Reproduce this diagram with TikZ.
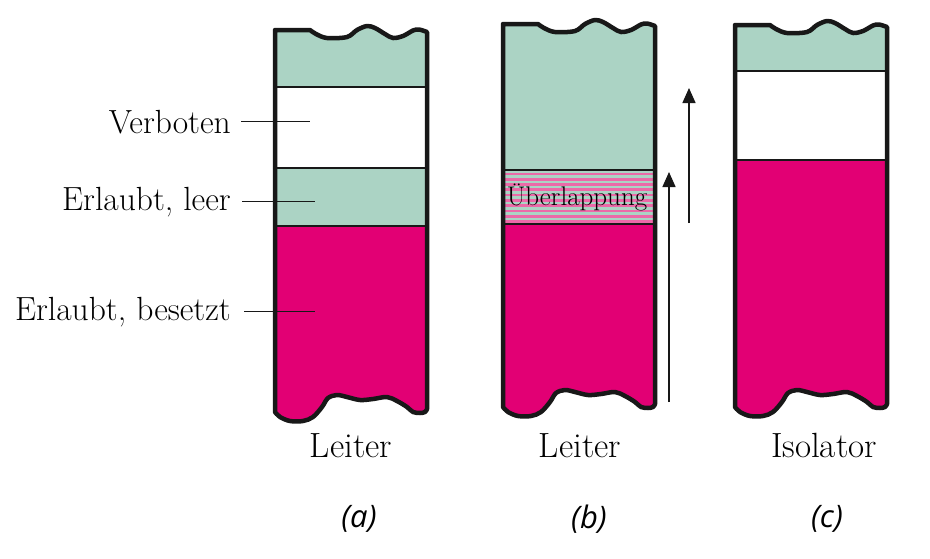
\documentclass[tikz,border=0pt]{standalone}
\usepackage{fontspec}
\newfontfamily\labsans{Open Sans}
\usetikzlibrary{arrows.meta}
\definecolor{bandgreen}{RGB}{171,211,196}
\definecolor{bandpink}{RGB}{226,0,116}
\definecolor{stripepink}{RGB}{236,105,168}
\definecolor{edgeblack}{RGB}{24,24,24}
\newcommand\colpath{(0,0) -- (35,0) -- plot[smooth, tension=0.55] coordinates {(35,0) (41,4) (52,8) (72,7) (82,0) (92,-4) (100,-2) (110,4) (118,8) (128,6) (138,0.5) (144,-0.5) (152,2)} -- (152,\colH-3) -- plot[smooth, tension=0.55] coordinates {(152,\colH-3) (150,\colH) (145,\colH+1) (138,\colH) (132,\colH-5) (122,\colH-11) (112,\colH-15) (98,\colH-13) (85,\colH-12) (72,\colH-15) (62,\colH-17) (53,\colH-14) (47,\colH-5) (38,\colH+5) (28,\colH+9) (15,\colH+9) (5,\colH+5) (0,\colH)} -- cycle}
\tikzset{
  border/.style={draw=edgeblack, line width=4.5pt, line join=round},
  divider/.style={draw=edgeblack, line width=1.6pt},
  leader/.style={draw=edgeblack, line width=1.4pt},
  uparrow/.style={draw=edgeblack, line width=1.5pt, -{Triangle[length=15pt,width=13pt]}},
  biglabel/.style={inner sep=0pt, font=\fontsize{33.5}{40}\selectfont},
  botlabel/.style={inner sep=0pt, font=\fontsize{35}{42}\selectfont},
  sublabel/.style={inner sep=0pt, font=\labsans\itshape\fontsize{31}{36}\selectfont},
}
\begin{document}
\begin{tikzpicture}[x=1pt,y=-1pt]
\useasboundingbox[fill=white] (0,0) rectangle (930,558);
% ---------- column (a)
\begin{scope}[shift={(275,30)}]
  \def\colH{382}
  \begin{scope}
    \clip \colpath;
    \fill[bandgreen] (-5,-10) rectangle (160,57);
    \fill[white] (-5,57) rectangle (160,138);
    \fill[bandgreen] (-5,138) rectangle (160,196);
    \fill[bandpink] (-5,196) rectangle (160,420);
    \draw[divider] (-5,57) -- (160,57);
    \draw[divider] (-5,138) -- (160,138);
    \draw[divider] (-5,196) -- (160,196);
  \end{scope}
  \path[border] \colpath;
\end{scope}
% ---------- column (b)
\begin{scope}[shift={(503,24)}]
  \def\colH{383}
  \begin{scope}
    \clip \colpath;
    \fill[bandgreen] (-5,-10) rectangle (160,146);
    \fill[bandgreen] (-5,146) rectangle (160,200);
    \foreach \k in {0,...,9} \fill[stripepink] (-5,148.5+\k*5.3) rectangle (160,151.2+\k*5.3);
    \fill[bandpink] (-5,200) rectangle (160,420);
    \draw[divider] (-5,146) -- (160,146);
    \draw[divider] (-5,200) -- (160,200);
  \end{scope}
  \path[border] \colpath;
  \node[inner sep=0pt, font=\fontsize{27}{32}\selectfont] (ueb) at (74,173) {Überlappung};
\end{scope}
% ---------- column (c)
\begin{scope}[shift={(735,25)}]
  \def\colH{382}
  \begin{scope}
    \clip \colpath;
    \fill[bandgreen] (-5,-10) rectangle (160,46);
    \fill[white] (-5,46) rectangle (160,135);
    \fill[bandpink] (-5,135) rectangle (160,420);
    \draw[divider] (-5,46) -- (160,46);
    \draw[divider] (-5,135) -- (160,135);
  \end{scope}
  \path[border] \colpath;
\end{scope}
% ---------- left labels
\node[biglabel, anchor=base east] (verb) at (231,133) {Verboten};
\node[biglabel, anchor=base east] (leer) at (231,210) {Erlaubt, leer};
\node[biglabel, anchor=base east] (bes) at (231,320) {Erlaubt, besetzt};
\coordinate (verbE) at (310,0);
\coordinate (leerE) at (315,0);
\coordinate (besE) at (315,0);
\draw[leader] ([xshift=10pt]verb.east) -- (verb.east -| verbE);
\draw[leader] ([xshift=11pt]leer.east) -- (leer.east -| leerE);
\draw[leader] ([xshift=13pt]bes.east) -- (bes.east -| besE);
% ---------- arrows
\coordinate (ar1s) at (669,402);
\coordinate (ar1e) at (669,172);
\coordinate (ar2s) at (689,223);
\coordinate (ar2e) at (689,88);
\draw[uparrow] (ar1s) -- (ar1e);
\draw[uparrow] (ar2s) -- (ar2e);
% ---------- bottom labels
\node[botlabel, anchor=base] (la) at (351,457) {Leiter};
\node[botlabel, anchor=base] (lb) at (580,457) {Leiter};
\node[botlabel, anchor=base] (lc) at (824,457) {Isolator};
\node[sublabel] (sa) at (359,519) {(a)};
\node[sublabel] (sb) at (589,519) {(b)};
\node[sublabel] (sc) at (827,519) {(c)};
\end{tikzpicture}
\end{document}
